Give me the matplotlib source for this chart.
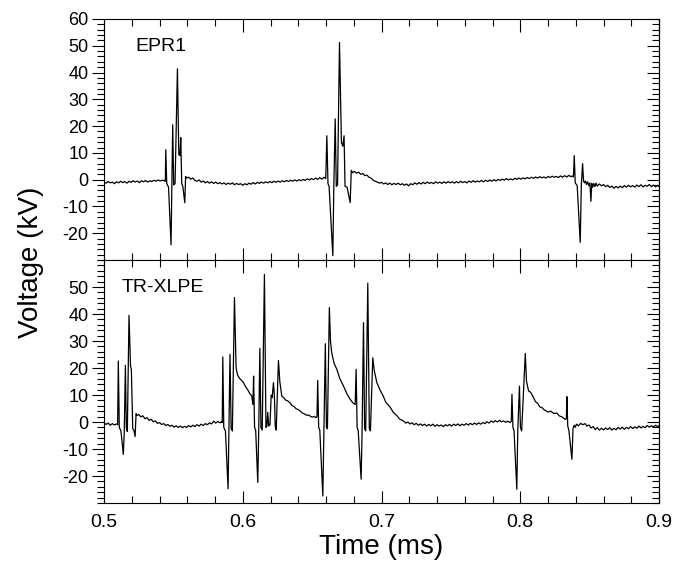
import numpy as np
import matplotlib
matplotlib.use('Agg')
import matplotlib.pyplot as plt
from matplotlib.ticker import MultipleLocator

plt.rcParams['font.family'] = ['Liberation Sans', 'DejaVu Sans']
plt.rcParams['axes.unicode_minus'] = False

# Traces: (time in ms, voltage in kV)
epr1_points = [
    (0.500, -0.8), (0.5015, -1.3), (0.503, -0.7), (0.5045, -1.2), (0.506, -0.9), (0.5075, -1.5),
    (0.509, -0.8), (0.5105, -1.2), (0.512, -0.6), (0.5135, -1.1), (0.515, -0.7), (0.5165, -1.3),
    (0.518, -0.6), (0.5195, -1.0), (0.521, -0.4), (0.5225, -0.9), (0.524, -0.5), (0.5255, -1.1),
    (0.527, -0.4), (0.5285, -0.8), (0.530, -0.3), (0.5315, -0.9), (0.533, -0.4), (0.5345, -0.7),
    (0.536, -0.2), (0.5375, -0.6), (0.539, -0.1), (0.5405, -0.5), (0.542, -0.2), (0.5435, -0.4),
    (0.5442, -0.6), (0.5445, 11.2), (0.5452, -1.5), (0.5465, -2.8), (0.5483, -24.3), (0.5489, -3.0),
    (0.5495, 20.5), (0.5502, -2.0), (0.5512, -1.5), (0.5529, 41.4), (0.5539, 9.3), (0.5547, 9.0),
    (0.5553, 15.7), (0.5560, -1.5), (0.5568, -2.5), (0.5582, -8.6), (0.5588, 1.2), (0.5596, 0.6),
    (0.561, 0.9), (0.5625, 0.2), (0.564, 0.6), (0.5655, -0.3), (0.567, -0.6), (0.5685, -0.1),
    (0.570, -0.9), (0.5715, -0.5), (0.573, -1.2), (0.5745, -0.7), (0.576, -1.3), (0.5775, -0.8),
    (0.579, -1.4), (0.5805, -0.9), (0.582, -1.5), (0.5835, -1.1), (0.585, -1.6), (0.5865, -1.2),
    (0.588, -1.8), (0.5895, -1.3), (0.591, -1.7), (0.5925, -1.2), (0.594, -1.9), (0.5955, -1.4),
    (0.597, -1.8), (0.5985, -1.5), (0.600, -2.1), (0.6015, -1.5), (0.603, -1.9), (0.6045, -1.3),
    (0.606, -1.7), (0.6075, -1.1), (0.609, -1.6), (0.6105, -1.0), (0.612, -1.4), (0.6135, -0.9),
    (0.615, -1.3), (0.6165, -0.8), (0.618, -1.2), (0.6195, -0.7), (0.621, -1.1), (0.6225, -0.6),
    (0.624, -1.0), (0.6255, -0.5), (0.627, -0.9), (0.6285, -0.4), (0.630, -0.8), (0.6315, -0.3),
    (0.633, -0.7), (0.6345, -0.2), (0.636, -0.6), (0.6375, -0.1), (0.639, -0.5), (0.6405, 0.0),
    (0.642, -0.4), (0.6435, 0.1), (0.645, -0.3), (0.6465, 0.3), (0.648, -0.1), (0.6495, 0.4),
    (0.651, 0.0), (0.6525, 0.6), (0.654, 0.1), (0.6555, 0.8), (0.657, 0.2), (0.6585, 0.9),
    (0.6598, 0.4), (0.6606, 16.4), (0.6614, -1.5), (0.6622, -2.5), (0.6649, -28.4), (0.6656, -3.0),
    (0.6666, 22.7), (0.6674, -2.5), (0.6683, -2.0), (0.6697, 51.2), (0.6711, 13.8), (0.6721, 12.5),
    (0.6730, 16.4), (0.6737, -2.5), (0.6752, -2.8), (0.6774, -8.6), (0.6782, 3.5), (0.6792, 2.6),
    (0.6805, 3.1), (0.682, 2.4), (0.6835, 2.8), (0.685, 2.0), (0.6865, 2.3), (0.688, 1.5),
    (0.6895, 1.7), (0.691, 0.9), (0.6925, 0.6), (0.694, -0.2), (0.6955, -0.6), (0.697, -0.9),
    (0.6985, -1.3), (0.700, -1.0), (0.7015, -1.6), (0.703, -1.2), (0.7045, -1.8), (0.706, -1.3),
    (0.7075, -1.9), (0.709, -1.4), (0.7105, -1.8), (0.712, -1.3), (0.7135, -1.9), (0.715, -1.5),
    (0.7165, -2.1), (0.718, -1.6), (0.7195, -2.3), (0.721, -1.5), (0.7225, -1.9), (0.724, -1.2),
    (0.7255, -1.7), (0.727, -1.1), (0.7285, -1.6), (0.730, -1.0), (0.7315, -1.5), (0.733, -0.9),
    (0.7345, -1.4), (0.736, -1.0), (0.7375, -1.5), (0.739, -0.8), (0.7405, -1.3), (0.742, -0.9),
    (0.7435, -1.4), (0.745, -0.8), (0.7465, -1.3), (0.748, -0.7), (0.7495, -1.2), (0.751, -0.8),
    (0.7525, -1.3), (0.754, -0.7), (0.7555, -1.2), (0.757, -0.6), (0.7585, -1.1), (0.760, -0.7),
    (0.7615, -1.2), (0.763, -0.5), (0.7645, -1.0), (0.766, -0.4), (0.7675, -0.9), (0.769, -0.5),
    (0.7705, -0.8), (0.772, -0.3), (0.7735, -0.8), (0.775, -0.2), (0.7765, -0.7), (0.778, -0.1),
    (0.7795, -0.6), (0.781, 0.0), (0.7825, -0.5), (0.784, 0.1), (0.7855, -0.3), (0.787, 0.2),
    (0.7885, -0.2), (0.790, 0.4), (0.7915, -0.1), (0.793, 0.3), (0.7945, -0.1), (0.796, 0.5),
    (0.7975, 0.1), (0.799, 0.6), (0.8005, 0.2), (0.802, 0.7), (0.8035, 0.3), (0.805, 0.8),
    (0.8065, 0.4), (0.808, 0.9), (0.8095, 0.5), (0.811, 1.0), (0.8125, 0.6), (0.814, 1.1),
    (0.8155, 0.7), (0.817, 1.0), (0.8185, 0.6), (0.820, 1.2), (0.8215, 0.8), (0.823, 1.3),
    (0.8245, 0.9), (0.826, 1.2), (0.8275, 0.8), (0.829, 1.4), (0.8305, 0.9), (0.832, 1.5),
    (0.8335, 1.0), (0.835, 1.6), (0.8365, 1.1), (0.8375, 1.4), (0.8383, 1.0), (0.8389, 9.0),
    (0.8396, -1.2), (0.8410, -2.2), (0.8432, -23.4), (0.8440, -2.0), (0.8449, 6.0), (0.8456, -0.5),
    (0.8463, -1.2), (0.8470, -0.5), (0.8478, -1.8), (0.8486, -0.8), (0.8494, -2.3), (0.8502, -1.2),
    (0.8509, -8.1), (0.8515, -1.4), (0.8522, -2.8), (0.853, -1.4), (0.8538, -2.6), (0.8546, -1.3),
    (0.8555, -2.4), (0.857, -1.6), (0.8585, -2.3), (0.860, -1.8), (0.8615, -2.6), (0.863, -2.1),
    (0.8645, -2.9), (0.866, -2.4), (0.8675, -3.2), (0.869, -2.5), (0.8705, -3.1), (0.872, -2.4),
    (0.8735, -3.0), (0.875, -2.2), (0.8765, -2.8), (0.878, -2.1), (0.8795, -2.7), (0.881, -2.2),
    (0.8825, -2.8), (0.884, -2.0), (0.8855, -2.6), (0.887, -1.9), (0.8885, -2.7), (0.890, -2.1),
    (0.8915, -2.5), (0.893, -1.8), (0.8945, -2.6), (0.896, -2.0), (0.8975, -2.7), (0.899, -2.1),
    (0.900, -2.6),
]

xlpe_points = [
    (0.500, -0.3), (0.5015, -0.9), (0.503, -0.4), (0.5045, -1.2), (0.506, -0.6), (0.5075, -1.1),
    (0.509, -0.7), (0.5098, -1.0), (0.5103, 22.6), (0.5110, -2.0), (0.5122, -3.3), (0.5139, -12.0),
    (0.5146, -3.5), (0.5154, 21.0), (0.5161, -2.5), (0.5168, -3.5), (0.5180, 39.5), (0.5191, 20.7),
    (0.5197, 19.5), (0.5207, -2.5), (0.5215, -3.0), (0.5224, -5.4), (0.5231, 3.1), (0.5238, 2.4),
    (0.525, 2.8), (0.5265, 1.9), (0.528, 2.3), (0.5295, 1.2), (0.531, 1.6), (0.5325, 0.6),
    (0.534, 1.0), (0.5355, 0.1), (0.537, 0.4), (0.5385, -0.5), (0.540, -0.2), (0.5415, -0.9),
    (0.543, -0.6), (0.5445, -1.3), (0.546, -0.9), (0.5475, -1.6), (0.549, -1.2), (0.5505, -1.9),
    (0.552, -1.4), (0.5535, -2.0), (0.555, -1.5), (0.5565, -2.1), (0.558, -1.6), (0.5595, -2.0),
    (0.561, -1.3), (0.5625, -1.8), (0.564, -1.2), (0.5655, -1.7), (0.567, -1.0), (0.5685, -1.5),
    (0.570, -0.8), (0.5715, -1.3), (0.573, -0.6), (0.5745, -1.0), (0.576, -0.3), (0.5775, -0.7),
    (0.579, 0.3), (0.5805, -0.4), (0.582, 0.2), (0.5835, -0.3), (0.5848, 0.1), (0.5852, -0.2),
    (0.5856, 24.1), (0.5863, -2.0), (0.5875, -3.3), (0.5894, -24.7), (0.5900, -3.0), (0.5908, 25.1),
    (0.5916, -2.5), (0.5925, -3.3), (0.5940, 46.1), (0.5952, 20.0), (0.5962, 17.5), (0.5975, 16.3),
    (0.599, 15.5), (0.6004, 14.7), (0.602, 13.1), (0.6035, 12.0), (0.605, 10.6), (0.6065, 9.6),
    (0.6073, 6.5), (0.6078, 17.0), (0.6085, -2.0), (0.6093, -3.0), (0.6108, -22.4), (0.6115, -3.0),
    (0.6123, 27.3), (0.6131, -2.0), (0.6140, -3.0), (0.6156, 54.7), (0.6167, -2.0), (0.6174, -1.5),
    (0.6180, 3.6), (0.6187, -1.5), (0.6196, -1.0), (0.6205, 10.0), (0.6212, 9.0), (0.6221, 14.6),
    (0.6228, 9.5), (0.6234, -1.5), (0.6241, -3.0), (0.6257, 22.8), (0.6267, 15.0), (0.6281, 9.6),
    (0.6295, 9.0), (0.631, 8.1), (0.6325, 7.8), (0.6341, 7.0), (0.6355, 6.1), (0.637, 5.7),
    (0.6385, 4.9), (0.640, 4.6), (0.6413, 4.1), (0.643, 3.3), (0.6445, 3.0), (0.646, 2.5),
    (0.6475, 2.6), (0.6485, 2.2), (0.650, 1.8), (0.6515, 2.1), (0.6527, 1.6), (0.6535, 2.0),
    (0.6540, 15.4), (0.6547, -2.0), (0.6555, -3.0), (0.6577, -27.4), (0.6585, -2.5), (0.6595, 29.0),
    (0.6603, -2.0), (0.6610, -2.5), (0.6624, 42.4), (0.6632, 30.0), (0.6641, 25.7), (0.665, 23.5),
    (0.666, 21.5), (0.6678, 19.5), (0.670, 16.0), (0.6726, 13.3), (0.675, 10.5), (0.6774, 8.4),
    (0.6795, 7.0), (0.6810, 6.5), (0.6817, 19.5), (0.6824, -2.0), (0.6832, -3.3), (0.6853, -21.2),
    (0.6860, -3.0), (0.6870, 36.8), (0.6878, -2.5), (0.6886, -3.3), (0.6901, 51.4), (0.6912, -2.5),
    (0.6920, -3.3), (0.6937, 23.8), (0.6948, 19.0), (0.6966, 14.6), (0.699, 11.8), (0.7014, 9.4),
    (0.703, 7.4), (0.705, 6.2), (0.7062, 5.5), (0.7086, 3.5), (0.711, 2.4), (0.713, 1.1),
    (0.7158, 0.4), (0.7175, -0.4), (0.719, 0.0), (0.7205, -0.7), (0.722, -0.3), (0.7235, -1.0),
    (0.725, -0.5), (0.7265, -1.2), (0.728, -0.7), (0.7295, -1.3), (0.731, -0.8), (0.7325, -1.5),
    (0.734, -0.9), (0.7355, -1.4), (0.737, -0.8), (0.7385, -1.6), (0.740, -1.0), (0.7415, -1.5),
    (0.743, -1.1), (0.7445, -1.7), (0.746, -1.0), (0.7475, -1.4), (0.749, -0.9), (0.7505, -1.5),
    (0.752, -0.8), (0.7535, -1.3), (0.755, -0.7), (0.7565, -1.4), (0.758, -0.8), (0.7595, -1.2),
    (0.761, -0.6), (0.7625, -1.1), (0.764, -0.5), (0.7655, -1.0), (0.767, -0.4), (0.7685, -0.9),
    (0.770, -0.3), (0.7715, -0.8), (0.773, -0.2), (0.7745, -0.6), (0.776, 0.1), (0.7775, -0.4),
    (0.779, 0.4), (0.7805, -0.1), (0.782, 0.5), (0.7835, 0.0), (0.785, 0.6), (0.7865, 0.1),
    (0.788, 0.4), (0.7895, -0.1), (0.791, 0.3), (0.7925, -0.2), (0.7935, 0.2), (0.7940, 10.3),
    (0.7947, -2.0), (0.7955, -3.3), (0.7975, -24.9), (0.7982, -3.0), (0.7994, 13.3), (0.8001, -2.0),
    (0.8010, -3.3), (0.8036, 25.4), (0.8045, 15.0), (0.8060, 11.5), (0.8075, 11.0), (0.8096, 9.0),
    (0.811, 7.5), (0.8125, 7.0), (0.814, 5.6), (0.8155, 5.4), (0.8168, 4.7), (0.818, 4.3),
    (0.820, 3.7), (0.822, 4.0), (0.824, 3.2), (0.8264, 3.3), (0.828, 2.3), (0.830, 1.9),
    (0.8324, 1.0), (0.8332, 1.2), (0.8336, 9.4), (0.8342, -1.5), (0.8350, -3.0), (0.8372, -13.8),
    (0.8380, -2.5), (0.8388, -1.2), (0.8396, -2.0), (0.8405, -0.8), (0.842, -1.4), (0.8435, -0.5),
    (0.845, -1.0), (0.8468, -0.6), (0.848, -1.5), (0.8495, -1.1), (0.851, -2.2), (0.8525, -1.7),
    (0.854, -2.8), (0.8555, -2.1), (0.857, -3.0), (0.8585, -2.3), (0.860, -2.9), (0.8615, -2.2),
    (0.863, -2.8), (0.8645, -2.1), (0.866, -3.0), (0.8675, -2.3), (0.869, -2.9), (0.8705, -2.0),
    (0.872, -2.6), (0.8735, -1.9), (0.875, -2.7), (0.8765, -2.0), (0.878, -2.5), (0.8795, -1.7),
    (0.881, -2.4), (0.8825, -1.8), (0.884, -2.3), (0.8855, -1.5), (0.887, -2.2), (0.8885, -1.6),
    (0.890, -2.1), (0.8915, -1.3), (0.893, -1.9), (0.8945, -1.4), (0.896, -1.8), (0.8975, -1.2),
    (0.899, -1.7), (0.900, -1.4),
]

panel_names = ['EPR1', 'TR-XLPE']
top_yticks = [-20, -10, 0, 10, 20, 30, 40, 50, 60]
bottom_yticks = [-20, -10, 0, 10, 20, 30, 40, 50]
xticks = [0.5, 0.6, 0.7, 0.8, 0.9]

fig = plt.figure(figsize=(6.79, 5.65), dpi=100)
ax1 = fig.add_axes([0.1532, 0.5398, 0.8174, 0.4266])
ax2 = fig.add_axes([0.1532, 0.1097, 0.8174, 0.4301])

traces = [np.array(epr1_points), np.array(xlpe_points)]
yticks_list = [top_yticks, bottom_yticks]
text_pos = [(0.056, 0.884), (0.032, 0.888)]

for i, ax in enumerate([ax1, ax2]):
    data = traces[i]
    ax.plot(data[:, 0], data[:, 1], color='black', lw=0.9)
    ax.set_xlim(0.5, 0.9)
    ax.set_ylim(-30, 60)

    # x ticks inward on top and bottom
    ax.set_xticks(xticks)
    ax.xaxis.set_minor_locator(MultipleLocator(0.02))
    ax.tick_params(axis='x', which='both', direction='in', top=True, bottom=True)
    ax.tick_params(axis='x', which='major', length=9, width=0.8, labelsize=14, pad=8)
    ax.tick_params(axis='x', which='minor', length=5, width=0.8)

    # y ticks outward on the left
    ax.set_yticks(yticks_list[i])
    ax.yaxis.set_minor_locator(MultipleLocator(2))
    ax.tick_params(axis='y', which='both', direction='out', left=True, right=False)
    ax.tick_params(axis='y', which='major', length=9, width=0.8, labelsize=13, pad=2)
    ax.tick_params(axis='y', which='minor', length=5, width=0.8)

    # inward ticks on the right
    sec = ax.secondary_yaxis('right')
    sec.set_yticks(yticks_list[i])
    sec.yaxis.set_minor_locator(MultipleLocator(2))
    sec.tick_params(axis='y', which='both', direction='in', labelright=False)
    sec.tick_params(axis='y', which='major', length=9, width=0.8)
    sec.tick_params(axis='y', which='minor', length=5, width=0.8)

    for s in ax.spines.values():
        s.set_linewidth(0.8)

    ax.text(text_pos[i][0], text_pos[i][1], panel_names[i], transform=ax.transAxes,
            fontsize=14, ha='left', va='center')

ax1.tick_params(axis='x', labelbottom=False)

fig.text(0.046, 0.536, 'Voltage (kV)', rotation=90, fontsize=20, ha='center', va='center')
fig.text(0.562, 0.032, 'Time (ms)', fontsize=20, ha='center', va='center')

fig.savefig('out.png', dpi=100)
